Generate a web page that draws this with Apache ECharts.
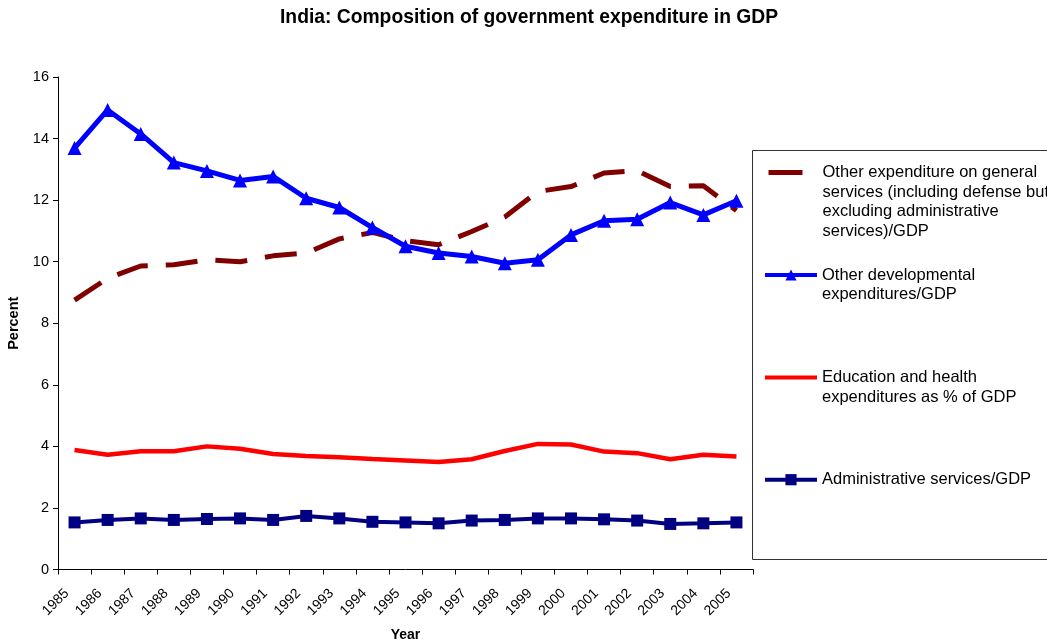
<!DOCTYPE html>
<html>
<head>
<meta charset="utf-8">
<script src="https://cdn.jsdelivr.net/npm/echarts@6/dist/echarts.min.js"></script>
<style>
  html, body { margin: 0; padding: 0; background: #fff; }
  #chart { width: 1047px; height: 644px; }
</style>
</head>
<body>
<div id="chart"></div>
<script>
// Years on the category axis
const years = ['1985','1986','1987','1988','1989','1990','1991','1992','1993','1994','1995',
               '1996','1997','1998','1999','2000','2001','2002','2003','2004','2005'];

// Series values, percent of GDP
const otherGeneral = [8.75, 9.46, 9.86, 9.90, 10.06, 10.00, 10.19, 10.28, 10.74, 10.95, 10.68,
                      10.55, 10.98, 11.45, 12.28, 12.44, 12.88, 12.96, 12.44, 12.47, 11.66];
const otherDevelopmental = [13.69, 14.93, 14.15, 13.22, 12.95, 12.64, 12.77, 12.06, 11.76, 11.11, 10.50,
                            10.28, 10.17, 9.95, 10.06, 10.87, 11.33, 11.38, 11.92, 11.52, 11.98];
const educationHealth = [3.88, 3.73, 3.84, 3.84, 4.00, 3.92, 3.75, 3.69, 3.65, 3.59, 3.54,
                         3.49, 3.58, 3.85, 4.08, 4.06, 3.83, 3.78, 3.58, 3.73, 3.67];
const administrative = [1.53, 1.61, 1.66, 1.61, 1.64, 1.66, 1.61, 1.74, 1.66, 1.55, 1.53,
                        1.50, 1.59, 1.61, 1.66, 1.66, 1.63, 1.59, 1.48, 1.50, 1.53];

// Series names (legend text)
const names = [
  'Other expenditure on general\nservices (including defense but\nexcluding administrative\nservices)/GDP',
  'Other developmental\nexpenditures/GDP',
  'Education and health\nexpenditures as % of GDP',
  'Administrative services/GDP'
];

const FONT = '"Liberation Sans", Arial, sans-serif';
const LEG_LH = 19.5;

// One legend block per series; blank lines are prepended so the icon
// lines up with the first row of a multi-row label.
function legendFor(name, top, lines, dataItem) {
  const pad = '\n'.repeat(lines - 1);
  return {
    show: true,
    left: 763,
    top: top,
    padding: 0,
    itemWidth: 52,
    itemHeight: 14,
    selectedMode: false,
    formatter: pad + '{name}',
    lineStyle: { width: 4 },
    data: [dataItem || name],
    textStyle: {
      fontFamily: FONT,
      fontSize: 16.5,
      color: '#000',
      lineHeight: LEG_LH
    }
  };
}

const chart = echarts.init(document.getElementById('chart'), null, { renderer: 'canvas' });

chart.setOption({
  backgroundColor: '#fff',
  animation: false,
  title: {
    text: 'India: Composition of government expenditure in GDP',
    left: 280,
    top: 8,
    padding: 0,
    textStyle: { fontFamily: FONT, fontSize: 19.3, fontWeight: 'bold', color: '#000' }
  },
  grid: { left: 58, right: 294, top: 77, bottom: 74.5, containLabel: false, outerBoundsMode: 'none' },
  legend: [
    legendFor(names[0], 104.25, 4, {
      name: names[0],
      itemStyle: { opacity: 0 },
      lineStyle: { type: [34, 40], dashOffset: 71, width: 5 }
    }),
    legendFor(names[1], 245.75, 2),
    legendFor(names[2], 348.25, 2, { name: names[2], itemStyle: { opacity: 0 } }),
    legendFor(names[3], 469.95, 1)
  ],
  graphic: [{
    type: 'rect',
    shape: { x: 752.5, y: 150.5, width: 400, height: 409 },
    style: { fill: 'none', stroke: '#333', lineWidth: 1 },
    z: 10
  }],
  xAxis: {
    type: 'category',
    data: years,
    boundaryGap: true,
    name: 'Year',
    nameLocation: 'middle',
    nameGap: 59,
    nameTextStyle: { fontFamily: FONT, fontSize: 14, fontWeight: 'bold', color: '#000' },
    axisLine: { lineStyle: { color: '#000', width: 1 } },
    axisTick: { show: true, alignWithLabel: false, length: 5, lineStyle: { color: '#000' } },
    axisLabel: {
      rotate: 45, margin: 14, interval: 0, padding: [0, 11, 0, 0],
      fontFamily: FONT, fontSize: 14, color: '#000'
    },
    splitLine: { show: false }
  },
  yAxis: {
    type: 'value',
    min: 0,
    max: 16,
    interval: 2,
    name: 'Percent',
    nameLocation: 'middle',
    nameGap: 35,
    nameRotate: 90,
    nameTextStyle: { fontFamily: FONT, fontSize: 14.5, fontWeight: 'bold', color: '#000' },
    axisLine: { show: true, lineStyle: { color: '#000', width: 1 } },
    axisTick: { show: true, length: 5, lineStyle: { color: '#000' } },
    axisLabel: { margin: 9, fontFamily: FONT, fontSize: 14.5, color: '#000' },
    splitLine: { show: false }
  },
  series: [
    {
      name: names[0],
      type: 'line',
      data: otherGeneral,
      symbol: 'none',
      color: '#800000',
      lineStyle: { color: '#800000', width: 5, type: [32, 18], cap: 'butt' }
    },
    {
      name: names[1],
      type: 'line',
      data: otherDevelopmental,
      symbol: 'triangle',
      symbolSize: 14,
      color: '#0000FF',
      itemStyle: { color: '#0000FF' },
      lineStyle: { color: '#0000FF', width: 5 }
    },
    {
      name: names[2],
      type: 'line',
      data: educationHealth,
      symbol: 'none',
      color: '#FF0000',
      lineStyle: { color: '#FF0000', width: 4.5 }
    },
    {
      name: names[3],
      type: 'line',
      data: administrative,
      symbol: 'rect',
      symbolSize: 12,
      color: '#000080',
      itemStyle: { color: '#000080' },
      lineStyle: { color: '#000080', width: 4 }
    }
  ]
});
</script>
</body>
</html>
